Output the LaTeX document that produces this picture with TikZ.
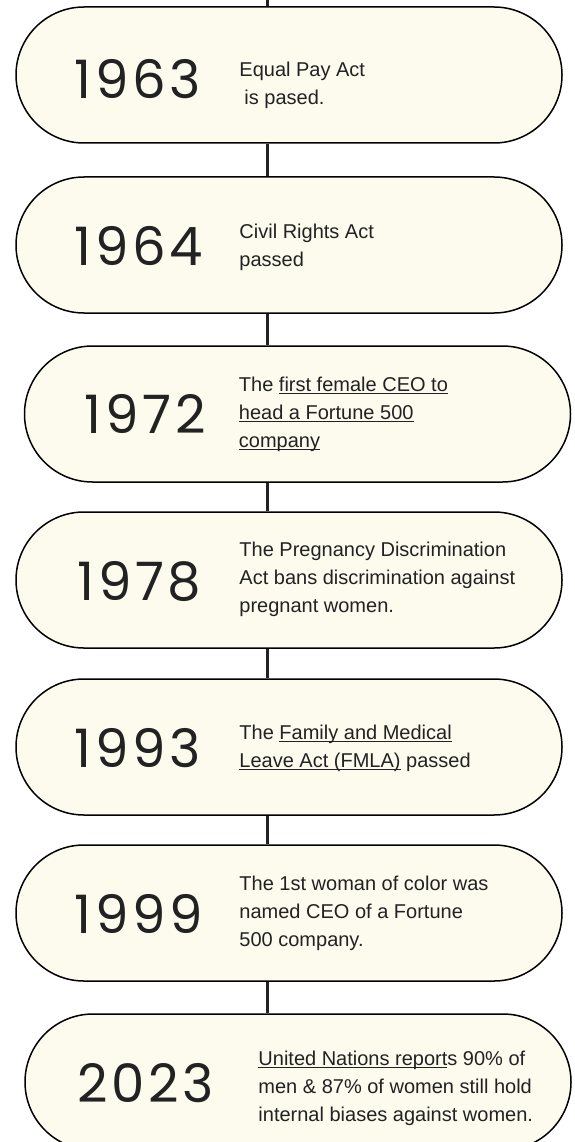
\documentclass[tikz,border=0pt]{standalone}
\usepackage{fontspec}
\setmainfont{Liberation Sans}
\newfontfamily\yearfont[LetterSpace=7]{Poppins}
\usepackage{tikz}
\usetikzlibrary{shapes.misc, positioning}
\definecolor{creamfill}{RGB}{253,251,238}
\definecolor{inkdark}{RGB}{34,34,34}
\newcommand{\linkul}[1]{\setbox0\hbox{#1}\rlap{\rule[-2.6pt]{\wd0}{0.9pt}}\box0\relax}

\begin{document}
\begin{tikzpicture}[
    x=1pt, y=-1pt,
    every node/.style={font=\fontsize{20}{28}\selectfont, text=inkdark},
    eventbox/.style={rounded rectangle, draw=black, line width=1.5pt, fill=creamfill, minimum width=546pt, minimum height=136pt, inner sep=0pt},
    yearlabel/.style={anchor=west, inner sep=0pt, font=\yearfont\fontsize{53}{53}\selectfont},
    eventtext/.style={anchor=west, align=left, inner sep=0pt},
    spine/.style={line width=3pt, draw=inkdark}
]

\fill[white] (0,0) rectangle (574,1142);
\useasboundingbox (0,0) rectangle (574,1142);

\node[eventbox] (box1963) at (289,75) {};
\node[eventbox] (box1964) at (289,245) {};
\node[eventbox] (box1972) at (297.5,414) {};
\node[eventbox] (box1978) at (289,580) {};
\node[eventbox] (box1993) at (289,747) {};
\node[eventbox] (box1999) at (289,913) {};
\node[eventbox] (box2023) at (298,1082) {};

\node[yearlabel] (y1963) at ([xshift=59pt, yshift=-4pt]box1963.west) {1963};
\node[yearlabel] (y1964) at ([xshift=59pt, yshift=-1pt]box1964.west) {1964};
\node[yearlabel] (y1972) at ([xshift=61pt, yshift=0pt]box1972.west) {1972};
\node[yearlabel] (y1978) at ([xshift=62pt, yshift=-1pt]box1978.west) {1978};
\node[yearlabel] (y1993) at ([xshift=59pt, yshift=-1pt]box1993.west) {1993};
\node[yearlabel] (y1999) at ([xshift=59pt, yshift=-1pt]box1999.west) {1999};
\node[yearlabel] (y2023) at ([xshift=53pt, yshift=-1pt]box2023.west) {2023};

\node[eventtext] (t1963) at ([xshift=224pt, yshift=-10pt]box1963.west) {Equal Pay Act\\\hspace{5pt}is pased.};
\node[eventtext] (t1964) at ([xshift=224pt, yshift=-2pt]box1964.west) {Civil Rights Act\\passed};
\node[eventtext] (t1972) at ([xshift=215pt, yshift=0pt]box1972.west) {The \linkul{first female CEO to}\\\linkul{head a Fortune 500}\\\linkul{company}};
\node[eventtext] (t1978) at ([xshift=224pt, yshift=1pt]box1978.west) {The Pregnancy Discrimination\\Act bans discrimination against\\pregnant women.};
\node[eventtext] (t1993) at ([xshift=224pt, yshift=-1pt]box1993.west) {The \linkul{Family and Medical}\\\linkul{Leave Act (FMLA)} passed};
\node[eventtext] (t1999) at ([xshift=224pt, yshift=0pt]box1999.west) {The 1st woman of color was\\named CEO of a Fortune\\500 company.};
\node[eventtext] (t2023) at ([xshift=234pt, yshift=-6pt]box2023.west) {\linkul{United Nations report}s 90\% of\\men \& 87\% of women still hold\\internal biases against women.};

% timeline spine
\coordinate (spinetop) at (267,0);
\draw[spine] (spinetop) -- (box1963.north -| spinetop);
\draw[spine] (box1963.south -| spinetop) -- (box1964.north -| spinetop);
\draw[spine] (box1964.south -| spinetop) -- (box1972.north -| spinetop);
\draw[spine] (box1972.south -| spinetop) -- (box1978.north -| spinetop);
\draw[spine] (box1978.south -| spinetop) -- (box1993.north -| spinetop);
\draw[spine] (box1993.south -| spinetop) -- (box1999.north -| spinetop);
\draw[spine] (box1999.south -| spinetop) -- (box2023.north -| spinetop);

\end{tikzpicture}
\end{document}
